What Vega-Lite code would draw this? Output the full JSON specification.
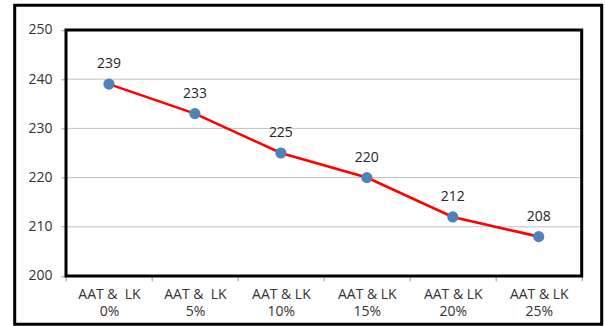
{
  "$schema": "https://vega.github.io/schema/vega-lite/v6.json",
  "width": 587,
  "height": 319,
  "autosize": {"type": "none"},
  "padding": {"left": 14.7, "top": 5.3, "right": 3.3, "bottom": 1.5},
  "background": "#ffffff",
  "config": {
    "view": {"stroke": "#000000", "strokeWidth": 3},
    "font": "Open Sans"
  },
  "datasets": {
    "mix": [
      {"mix": "AAT &\u00a0 LK\n0%", "value": 239},
      {"mix": "AAT &\u00a0 LK\n5%", "value": 233},
      {"mix": "AAT & LK\n10%", "value": 225},
      {"mix": "AAT & LK\n15%", "value": 220},
      {"mix": "AAT & LK\n20%", "value": 212},
      {"mix": "AAT & LK\n25%", "value": 208}
    ],
    "grid": [{"level": 210}, {"level": 220}, {"level": 230}, {"level": 240}]
  },
  "resolve": {"scale": {"x": "independent"}, "axis": {"x": "independent"}},
  "layer": [
    {
      "layer": [
        {
          "data": {"name": "grid"},
          "mark": {"type": "rule", "color": "#c0c0c0", "strokeWidth": 1},
          "encoding": {
            "x": {"datum": 0, "type": "quantitative", "scale": {"domain": [-0.5969, 6.2327], "nice": false, "zero": false}, "axis": null},
            "x2": {"datum": 6},
            "y": {
              "field": "level", "type": "quantitative",
              "scale": {"domain": [190.18, 255.02], "nice": false, "zero": false},
              "axis": {
                "title": null, "offset": -51.3, "values": [200, 210, 220, 230, 240, 250],
                "domain": false, "grid": false, "tickColor": "#9a9a9a", "tickSize": 5,
                "labelFontSize": 14, "labelColor": "#333333", "labelPadding": 9
              }
            }
          }
        },
        {
          "data": {"values": [{}]},
          "mark": {"type": "rect", "fillOpacity": 0, "stroke": "#000000", "strokeWidth": 3},
          "encoding": {
            "x": {"datum": 0, "type": "quantitative"},
            "x2": {"datum": 6},
            "y": {"datum": 200, "type": "quantitative"},
            "y2": {"datum": 250}
          }
        }
      ]
    },
    {
      "layer": [
        {
          "data": {"name": "mix"},
          "mark": {"type": "line", "color": "#ff0000", "strokeWidth": 2.6},
          "encoding": {
            "x": {
              "field": "mix", "type": "nominal", "sort": null, "bandPosition": 0.5,
              "scale": {"type": "band", "paddingInner": 0, "paddingOuter": 0.4148, "align": 0.7195, "round": false},
              "axis": {
                "orient": "bottom",
                "title": null, "offset": -48.5, "domain": false, "tickBand": "extent",
                "tickColor": "#9a9a9a", "tickSize": 5, "labelAngle": 0,
                "labelExpr": "split(datum.label, '\\n')", "labelLineHeight": 17,
                "labelFontSize": 14, "labelColor": "#333333", "labelPadding": 7
              }
            },
            "y": {"field": "value", "type": "quantitative"}
          }
        },
        {
          "data": {"name": "mix"},
          "mark": {"type": "point", "filled": true, "size": 125, "color": "#4f81bd", "opacity": 1},
          "encoding": {
            "x": {"field": "mix", "type": "nominal", "sort": null, "bandPosition": 0.5},
            "y": {"field": "value", "type": "quantitative"}
          }
        },
        {
          "data": {"name": "mix"},
          "mark": {"type": "text", "fontSize": 14, "color": "#262626", "dy": -20, "baseline": "middle"},
          "encoding": {
            "x": {"field": "mix", "type": "nominal", "sort": null, "bandPosition": 0.5},
            "y": {"field": "value", "type": "quantitative"},
            "text": {"field": "value", "type": "quantitative"}
          }
        }
      ]
    }
  ]
}
